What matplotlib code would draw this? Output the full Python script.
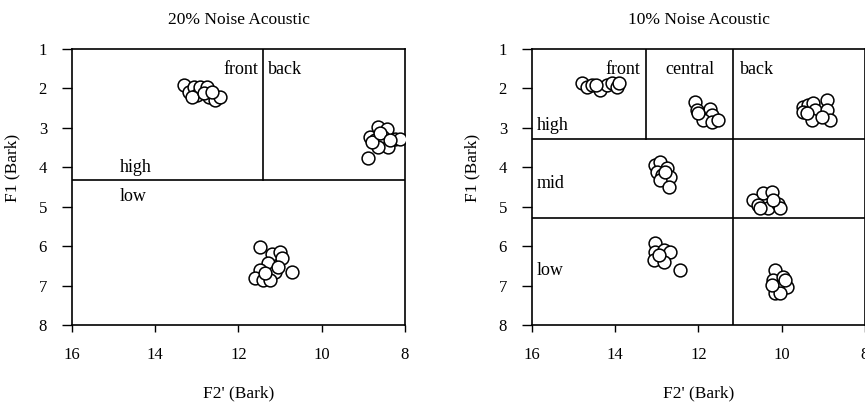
import matplotlib
matplotlib.use("Agg")
from matplotlib import pyplot as plt

plt.rcParams["font.family"] = ["Liberation Serif", "DejaVu Serif"]

# 20% noise panel: F2' and F1 in Bark
f2_20 = [13.32, 13.20, 13.08, 13.00, 12.92, 12.76, 12.72, 12.56, 12.44, 13.12, 12.84, 12.64,
         8.64, 8.44, 8.84, 8.72, 8.52, 8.24, 8.12, 8.40, 8.64, 8.80, 8.88, 8.60, 8.36,
         11.48, 11.20, 11.00, 10.96, 11.28, 11.48, 11.12, 10.72, 11.60, 11.40, 11.24, 11.04, 11.36]
f1_20 = [1.91, 2.08, 1.96, 2.17, 1.96, 1.96, 2.21, 2.29, 2.21, 2.21, 2.12, 2.08,
         2.97, 3.04, 3.23, 3.31, 3.23, 3.29, 3.28, 3.48, 3.48, 3.35, 3.77, 3.14, 3.31,
         6.02, 6.19, 6.14, 6.31, 6.44, 6.61, 6.65, 6.65, 6.82, 6.86, 6.86, 6.52, 6.69]

# 10% noise panel
f2_10 = [14.81, 14.69, 14.56, 14.37, 14.20, 14.08, 13.96, 13.92, 14.45,
         12.08, 12.04, 11.92, 11.72, 11.68, 11.88, 11.68, 11.52, 12.00,
         9.48, 9.36, 9.24, 9.20, 8.92, 8.92, 8.84, 9.48, 9.28, 9.04, 9.40,
         13.04, 12.92, 12.76, 13.00, 12.88, 12.68, 12.92, 12.72, 12.80,
         10.68, 10.44, 10.24, 10.56, 10.32, 10.08, 10.04, 10.52, 10.20,
         13.04, 13.04, 12.84, 12.68, 13.08, 12.84, 12.44, 12.96,
         10.16, 10.20, 9.96, 9.88, 10.12, 10.16, 10.04, 10.24, 9.92]
f1_10 = [1.87, 1.96, 1.91, 2.04, 1.91, 1.87, 1.96, 1.87, 1.91,
         2.34, 2.55, 2.68, 2.51, 2.68, 2.80, 2.84, 2.80, 2.63,
         2.46, 2.42, 2.38, 2.55, 2.29, 2.55, 2.80, 2.59, 2.80, 2.72, 2.63,
         3.94, 3.86, 4.03, 4.11, 4.20, 4.24, 4.32, 4.49, 4.11,
         4.83, 4.66, 4.62, 4.96, 5.04, 4.92, 5.04, 5.04, 4.83,
         5.93, 6.14, 6.10, 6.14, 6.36, 6.40, 6.61, 6.23,
         6.61, 6.86, 6.78, 7.03, 7.03, 7.20, 7.20, 6.99, 6.86]

# region boundaries
h_20 = [4.32]
v_20 = [(11.41, 1, 4.32)]
h_10 = [3.28, 5.29]
v_10 = [(13.26, 1, 3.28), (11.17, 1, 8)]

labels_20 = [("front", 11.53, 1.53, "right"), ("back", 11.29, 1.53, "left"),
             ("high", 14.85, 4.0, "left"), ("low", 14.85, 4.73, "left")]
labels_10 = [("front", 13.40, 1.51, "right"), ("central", 12.80, 1.51, "left"),
             ("back", 11.0, 1.51, "left"), ("high", 15.88, 2.95, "left"),
             ("mid", 15.88, 4.40, "left"), ("low", 15.88, 6.61, "left")]


def draw_panel(ax, xs, ys, hlines, vlines, labels, title):
    for y in hlines:
        ax.plot([16, 8], [y, y], color="black", lw=1.2, zorder=1)
    for x, y0, y1 in vlines:
        ax.plot([x, x], [y0, y1], color="black", lw=1.2, zorder=1)
    ax.scatter(xs, ys, s=85, facecolor="white", edgecolor="black", linewidth=1.1, zorder=3)
    for txt, x, y, ha in labels:
        ax.text(x, y, txt, ha=ha, va="center", fontsize=13)
    ax.set_xlim(16, 8)
    ax.set_ylim(8, 1)
    ax.set_xticks([16, 14, 12, 10, 8])
    ax.set_yticks(range(1, 9))
    ax.tick_params(axis="y", direction="out", length=7, width=1, labelsize=12, pad=11)
    ax.tick_params(axis="x", direction="out", length=5, width=1, labelsize=12, pad=11)
    for sp in ax.spines.values():
        sp.set_linewidth(1.2)
    ax.set_title(title, fontsize=12.5, pad=18)
    ax.set_xlabel("F2' (Bark)", fontsize=12.5, labelpad=16)
    ax.set_ylabel("F1 (Bark)", fontsize=12.5)
    ax.yaxis.set_label_coords(-0.155, 0.57)


fig = plt.figure(figsize=(8.65, 4.03), dpi=100)
ax1 = fig.add_axes([0.0832, 0.1935, 0.385, 0.685])
ax2 = fig.add_axes([0.615, 0.1935, 0.385, 0.685])
draw_panel(ax1, f2_20, f1_20, h_20, v_20, labels_20, "20% Noise Acoustic")
draw_panel(ax2, f2_10, f1_10, h_10, v_10, labels_10, "10% Noise Acoustic")

fig.savefig("out.png", dpi=100)
